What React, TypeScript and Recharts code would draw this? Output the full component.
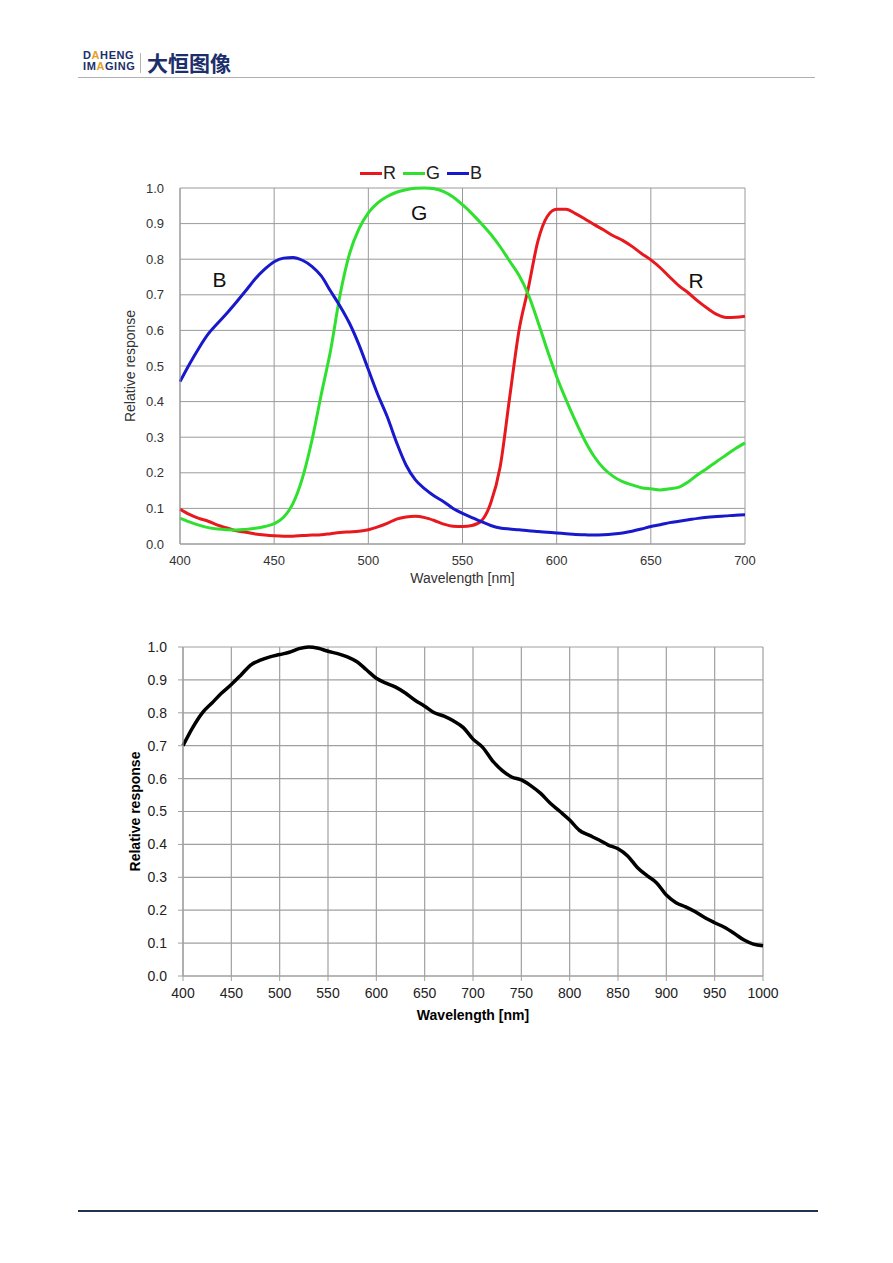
import { LineChart, Line, XAxis, YAxis, CartesianGrid, ReferenceDot } from "recharts";

const FONT = '"Liberation Sans", Arial, sans-serif';

// colour response (R, G, B), 5 nm steps
const WAVE_RGB = [
    400, 405, 410, 415, 420, 425, 430, 435, 440, 445, 450, 455, 460, 465, 470, 475, 480, 485, 490, 495,
    500, 505, 510, 515, 520, 525, 530, 535, 540, 545, 550, 555, 560, 565, 570, 575, 580, 585, 590, 595,
    600, 605, 610, 615, 620, 625, 630, 635, 640, 645, 650, 655, 660, 665, 670, 675, 680, 685, 690, 695, 700,
];
const RED = [
    0.098, 0.083, 0.072, 0.064, 0.053, 0.045, 0.037, 0.033, 0.028, 0.025, 0.023, 0.022, 0.022, 0.024, 0.025, 0.026, 0.029, 0.032, 0.034, 0.036,
    0.04, 0.048, 0.058, 0.07, 0.076, 0.078, 0.074, 0.066, 0.056, 0.05, 0.049, 0.052, 0.065, 0.115, 0.217, 0.41, 0.6, 0.72, 0.85, 0.92,
    0.94, 0.94, 0.928, 0.913, 0.897, 0.882, 0.866, 0.853, 0.836, 0.816, 0.798, 0.776, 0.75, 0.725, 0.705, 0.682, 0.662, 0.645, 0.636, 0.637, 0.64,
];
const GREEN = [
    0.073, 0.062, 0.053, 0.046, 0.042, 0.04, 0.039, 0.041, 0.044, 0.049, 0.057, 0.075, 0.114, 0.185, 0.29, 0.42, 0.545, 0.7, 0.815, 0.885,
    0.93, 0.958, 0.976, 0.988, 0.995, 0.999, 1.0, 0.998, 0.99, 0.975, 0.953, 0.928, 0.9, 0.87, 0.835, 0.795, 0.755, 0.7, 0.625, 0.545,
    0.47, 0.405, 0.345, 0.29, 0.245, 0.212, 0.19, 0.175, 0.166, 0.158, 0.155, 0.152, 0.155, 0.16, 0.175, 0.195, 0.213, 0.232, 0.25, 0.268, 0.284,
];
const BLUE = [
    0.456, 0.505, 0.55, 0.59, 0.62, 0.649, 0.68, 0.712, 0.745, 0.772, 0.793, 0.803, 0.805, 0.797, 0.78, 0.753, 0.71, 0.668, 0.62, 0.56,
    0.49, 0.42, 0.358, 0.285, 0.222, 0.18, 0.155, 0.135, 0.119, 0.1, 0.086, 0.074, 0.063, 0.052, 0.045, 0.042, 0.04, 0.037, 0.035, 0.033,
    0.031, 0.029, 0.027, 0.026, 0.025, 0.026, 0.028, 0.031, 0.036, 0.042, 0.049, 0.054, 0.06, 0.064, 0.068, 0.072, 0.075, 0.077, 0.079, 0.081, 0.082,
];

// mono response, 10 nm steps
const WAVE_MONO = [
    400, 410, 420, 430, 440, 450, 460, 470, 480, 490, 500, 510, 520, 530, 540, 550, 560, 570, 580, 590,
    600, 610, 620, 630, 640, 650, 660, 670, 680, 690, 700, 710, 720, 730, 740, 750, 760, 770, 780, 790,
    800, 810, 820, 830, 840, 850, 860, 870, 880, 890, 900, 910, 920, 930, 940, 950, 960, 970, 980, 990, 1000,
];
const MONO = [
    0.7, 0.755, 0.8, 0.83, 0.86, 0.886, 0.915, 0.945, 0.96, 0.97, 0.977, 0.984, 0.995, 1.0, 0.996, 0.987, 0.98, 0.97, 0.955, 0.93,
    0.905, 0.89, 0.878, 0.86, 0.838, 0.82, 0.8, 0.79, 0.775, 0.755, 0.72, 0.695, 0.655, 0.625, 0.605, 0.596, 0.578, 0.555, 0.525, 0.5,
    0.474, 0.443, 0.428, 0.414, 0.398, 0.387, 0.365, 0.33, 0.305, 0.283, 0.246, 0.223, 0.21, 0.195, 0.177, 0.162, 0.148, 0.13, 0.11, 0.097, 0.092,
];

const X_TICKS_RGB = [400, 450, 500, 550, 600, 650, 700];
const X_TICKS_MONO = [400, 450, 500, 550, 600, 650, 700, 750, 800, 850, 900, 950, 1000];
const Y_TICKS = [0, 0.1, 0.2, 0.3, 0.4, 0.5, 0.6, 0.7, 0.8, 0.9, 1.0];

const SERIES = [
    { key: "R", color: "#e8191e" },
    { key: "G", color: "#2fe02f" },
    { key: "B", color: "#1818cc" },
];

// curve labels placed inside the plot
const CURVE_LABELS = [
    { text: "B", nm: 421, v: 0.742 },
    { text: "G", nm: 527, v: 0.93 },
    { text: "R", nm: 674, v: 0.739 },
];

const rgbRows = WAVE_RGB.map((nm, i) => ({ nm, R: RED[i], G: GREEN[i], B: BLUE[i] }));
const monoRows = WAVE_MONO.map((nm, i) => ({ nm, v: MONO[i] }));

const fmt = (v: number) => v.toFixed(1);

function RgbChart() {
    const grid = "#9a9a9a";
    const tick = { fontSize: 13, fill: "#333", fontFamily: FONT };
    return (
        <div style={{ position: "absolute", left: 80, top: 150 }}>
            <LineChart width={700} height={450} data={rgbRows} margin={{ top: 38, right: 35, left: 0, bottom: 0 }}>
                <CartesianGrid stroke={grid} strokeWidth={1} />
                <XAxis
                    dataKey="nm"
                    type="number"
                    domain={[400, 700]}
                    ticks={X_TICKS_RGB}
                    height={56}
                    tick={tick}
                    tickLine={false}
                    tickMargin={6}
                    axisLine={{ stroke: grid }}
                    label={{ value: "Wavelength [nm]", position: "insideBottom", offset: 17, fontSize: 14, fill: "#333", fontFamily: FONT }}
                />
                <YAxis
                    type="number"
                    domain={[0, 1]}
                    ticks={Y_TICKS}
                    tickFormatter={fmt}
                    width={100}
                    tick={tick}
                    tickLine={false}
                    tickMargin={10}
                    axisLine={{ stroke: grid }}
                    label={{ value: "Relative response", angle: -90, position: "center", fontSize: 14, fill: "#333", fontFamily: FONT }}
                />
                {SERIES.map((s) => (
                    <Line
                        key={s.key}
                        dataKey={s.key}
                        type="monotone"
                        stroke={s.color}
                        strokeWidth={3}
                        dot={false}
                        isAnimationActive={false}
                    />
                ))}
                {CURVE_LABELS.map((l) => (
                    <ReferenceDot
                        key={l.text}
                        x={l.nm}
                        y={l.v}
                        r={0}
                        fill="none"
                        stroke="none"
                        label={{ value: l.text, position: "center", fontSize: 21, fill: "#111", fontFamily: FONT }}
                    />
                ))}
            </LineChart>
            {/* legend row above plot */}
            <div style={{ position: "absolute", left: 280, top: 13, display: "flex", alignItems: "center", fontFamily: FONT, fontSize: 18, color: "#222" }}>
                {SERIES.map((s) => (
                    <div key={s.key} style={{ display: "flex", alignItems: "center", marginRight: 7 }}>
                        <span style={{ display: "inline-block", width: 22, height: 3, background: s.color, marginRight: 1 }} />
                        <span>{s.key}</span>
                    </div>
                ))}
            </div>
        </div>
    );
}

function MonoChart() {
    const grid = "#a0a0a0";
    const tick = { fontSize: 14, fill: "#222", fontFamily: FONT };
    return (
        <div style={{ position: "absolute", left: 87, top: 600 }}>
            <LineChart width={706} height={436} data={monoRows} margin={{ top: 47, right: 30, left: 0, bottom: 0 }}>
                <CartesianGrid stroke={grid} strokeWidth={1.2} />
                <XAxis
                    dataKey="nm"
                    type="number"
                    domain={[400, 1000]}
                    ticks={X_TICKS_MONO}
                    height={60}
                    tick={tick}
                    tickSize={5}
                    tickLine={{ stroke: grid }}
                    tickMargin={7}
                    axisLine={{ stroke: grid, strokeWidth: 1.2 }}
                    label={{ value: "Wavelength [nm]", position: "insideBottom", offset: 16, fontSize: 14, fontWeight: "bold", fill: "#000", fontFamily: FONT }}
                />
                <YAxis
                    type="number"
                    domain={[0, 1]}
                    ticks={Y_TICKS}
                    tickFormatter={fmt}
                    width={96}
                    tick={tick}
                    tickSize={5}
                    tickLine={{ stroke: grid }}
                    tickMargin={11}
                    axisLine={{ stroke: grid, strokeWidth: 1.2 }}
                    label={{ value: "Relative response", angle: -90, position: "center", fontSize: 14, fontWeight: "bold", fill: "#000", fontFamily: FONT }}
                />
                <Line dataKey="v" type="monotone" stroke="#000" strokeWidth={3.5} dot={false} isAnimationActive={false} />
            </LineChart>
        </div>
    );
}

function Header() {
    const navy = "#1c2f6b";
    const gold = "#e6a01e";
    return (
        <>
            <div style={{ position: "absolute", left: 83, top: 50, fontFamily: FONT, fontWeight: "bold", fontSize: 11, lineHeight: "11px", color: navy, letterSpacing: 0.6 }}>
                <div>D<span style={{ color: gold }}>A</span>HENG</div>
                <div>IM<span style={{ color: gold }}>A</span>GING</div>
            </div>
            <div style={{ position: "absolute", left: 140, top: 53, width: 1, height: 20, background: "#b5b5b5" }} />
            <div style={{ position: "absolute", left: 147, top: 48, fontFamily: '"Noto Sans CJK SC", sans-serif', fontWeight: "bold", fontSize: 21, color: navy, lineHeight: "28px" }}>
                大恒图像
            </div>
            <div style={{ position: "absolute", left: 78, top: 77, width: 737, height: 1, background: "#b0b0b0" }} />
        </>
    );
}

export default function App() {
    return (
        <div style={{ position: "absolute", left: 0, top: 0, width: 893, height: 1263, background: "#fff", overflow: "hidden", fontFamily: FONT }}>
            <Header />
            <RgbChart />
            <MonoChart />
            <div style={{ position: "absolute", left: 78, top: 1210, width: 740, height: 2, background: "#1e3550" }} />
        </div>
    );
}
